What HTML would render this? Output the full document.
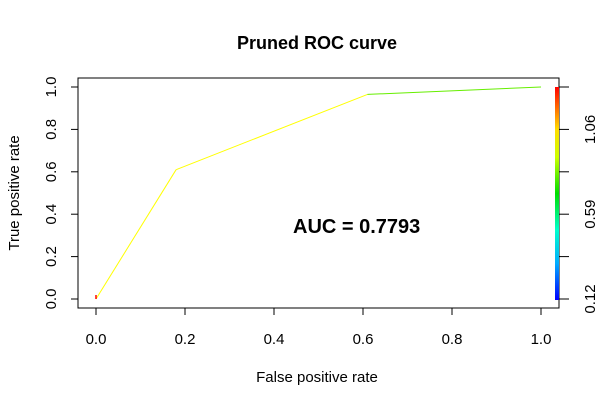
<!DOCTYPE html>
<html><head><meta charset="utf-8"><style>
body{margin:0;background:#fff}
svg text{font-family:"Liberation Sans",Arial,sans-serif}
</style></head><body>
<svg width="600" height="406" viewBox="0 0 600 406">
<defs><linearGradient id="cb" x1="0" y1="1" x2="0" y2="0">
<stop offset="0" stop-color="#0000ff"/><stop offset="0.17" stop-color="#00aaff"/><stop offset="0.33" stop-color="#00ffcc"/><stop offset="0.5" stop-color="#00dd00"/><stop offset="0.67" stop-color="#ccff00"/><stop offset="0.8" stop-color="#ffdd00"/><stop offset="1" stop-color="#ff0000"/></linearGradient></defs>
<text x="317" y="49" text-anchor="middle" font-size="18" font-weight="bold">Pruned ROC curve</text>
<rect x="78" y="78" width="481" height="230" fill="none" stroke="#000"/>
<g id="axes" stroke="#000"></g>
<g id="marks"></g>
<rect x="555" y="87" width="4" height="213" fill="url(#cb)"/>
<text x="317" y="382" text-anchor="middle" font-size="15">False positive rate</text>
<text transform="translate(19,193) rotate(-90)" text-anchor="middle" font-size="15">True positive rate</text>
<text x="293" y="233" font-size="20" font-weight="bold">AUC = 0.7793</text>
</svg>
<script>
const fpr=[0,0.18,0.61,1];
const tpr=[0,0.61,0.965,1];
const segColors=["#ffff00","#ffff00","#66ee00"];
const xTicks=[0,0.2,0.4,0.6,0.8,1.0];
const yTicks=[0,0.2,0.4,0.6,0.8,1.0];
const cbLabels=["0.12","0.59","1.06"];
const NS="http://www.w3.org/2000/svg";
const sx=v=>96+v*445, sy=v=>299-v*212;
function mk(t,a,p){const e=document.createElementNS(NS,t);for(const k in a)e.setAttribute(k,a[k]);p.appendChild(e);return e;}
const ax=document.getElementById('axes'),mg=document.getElementById('marks'),svg=document.querySelector('svg');
xTicks.forEach(v=>{const l=mk('line',{x1:sx(v),x2:sx(v),y1:308,y2:315},ax);


const t=mk('text',{x:sx(v),y:344,'text-anchor':'middle','font-size':15,stroke:'none'},svg);t.textContent=v.toFixed(1);

});
yTicks.forEach(v=>{const l=mk('line',{x1:71,x2:78,y1:sy(v),y2:sy(v)},ax);


const t=mk('text',{transform:`translate(56,${sy(v)}) rotate(-90)`,'text-anchor':'middle','font-size':15},svg);t.textContent=v.toFixed(1);

});
for(let i=0;i<6;i++){const y=299-i*42.4;const l=mk('line',{x1:559,x2:569,y1:y,y2:y},ax);

}
cbLabels.forEach((s,i)=>{const y=299-i*84.8;const t=mk('text',{transform:`translate(595,${y}) rotate(-90)`,'text-anchor':'middle','font-size':15},svg);t.textContent=s;

});
for(let i=0;i<fpr.length-1;i++){const l=mk('line',{x1:sx(fpr[i]),y1:sy(tpr[i]),x2:sx(fpr[i+1]),y2:sy(tpr[i+1]),stroke:segColors[i],'stroke-width':1},mg);

}
const s=mk('line',{x1:sx(0),y1:sy(0),x2:sx(0),y2:sy(0)-4,stroke:'#ff0000','stroke-width':1.5},mg);


</script>
</body></html>
